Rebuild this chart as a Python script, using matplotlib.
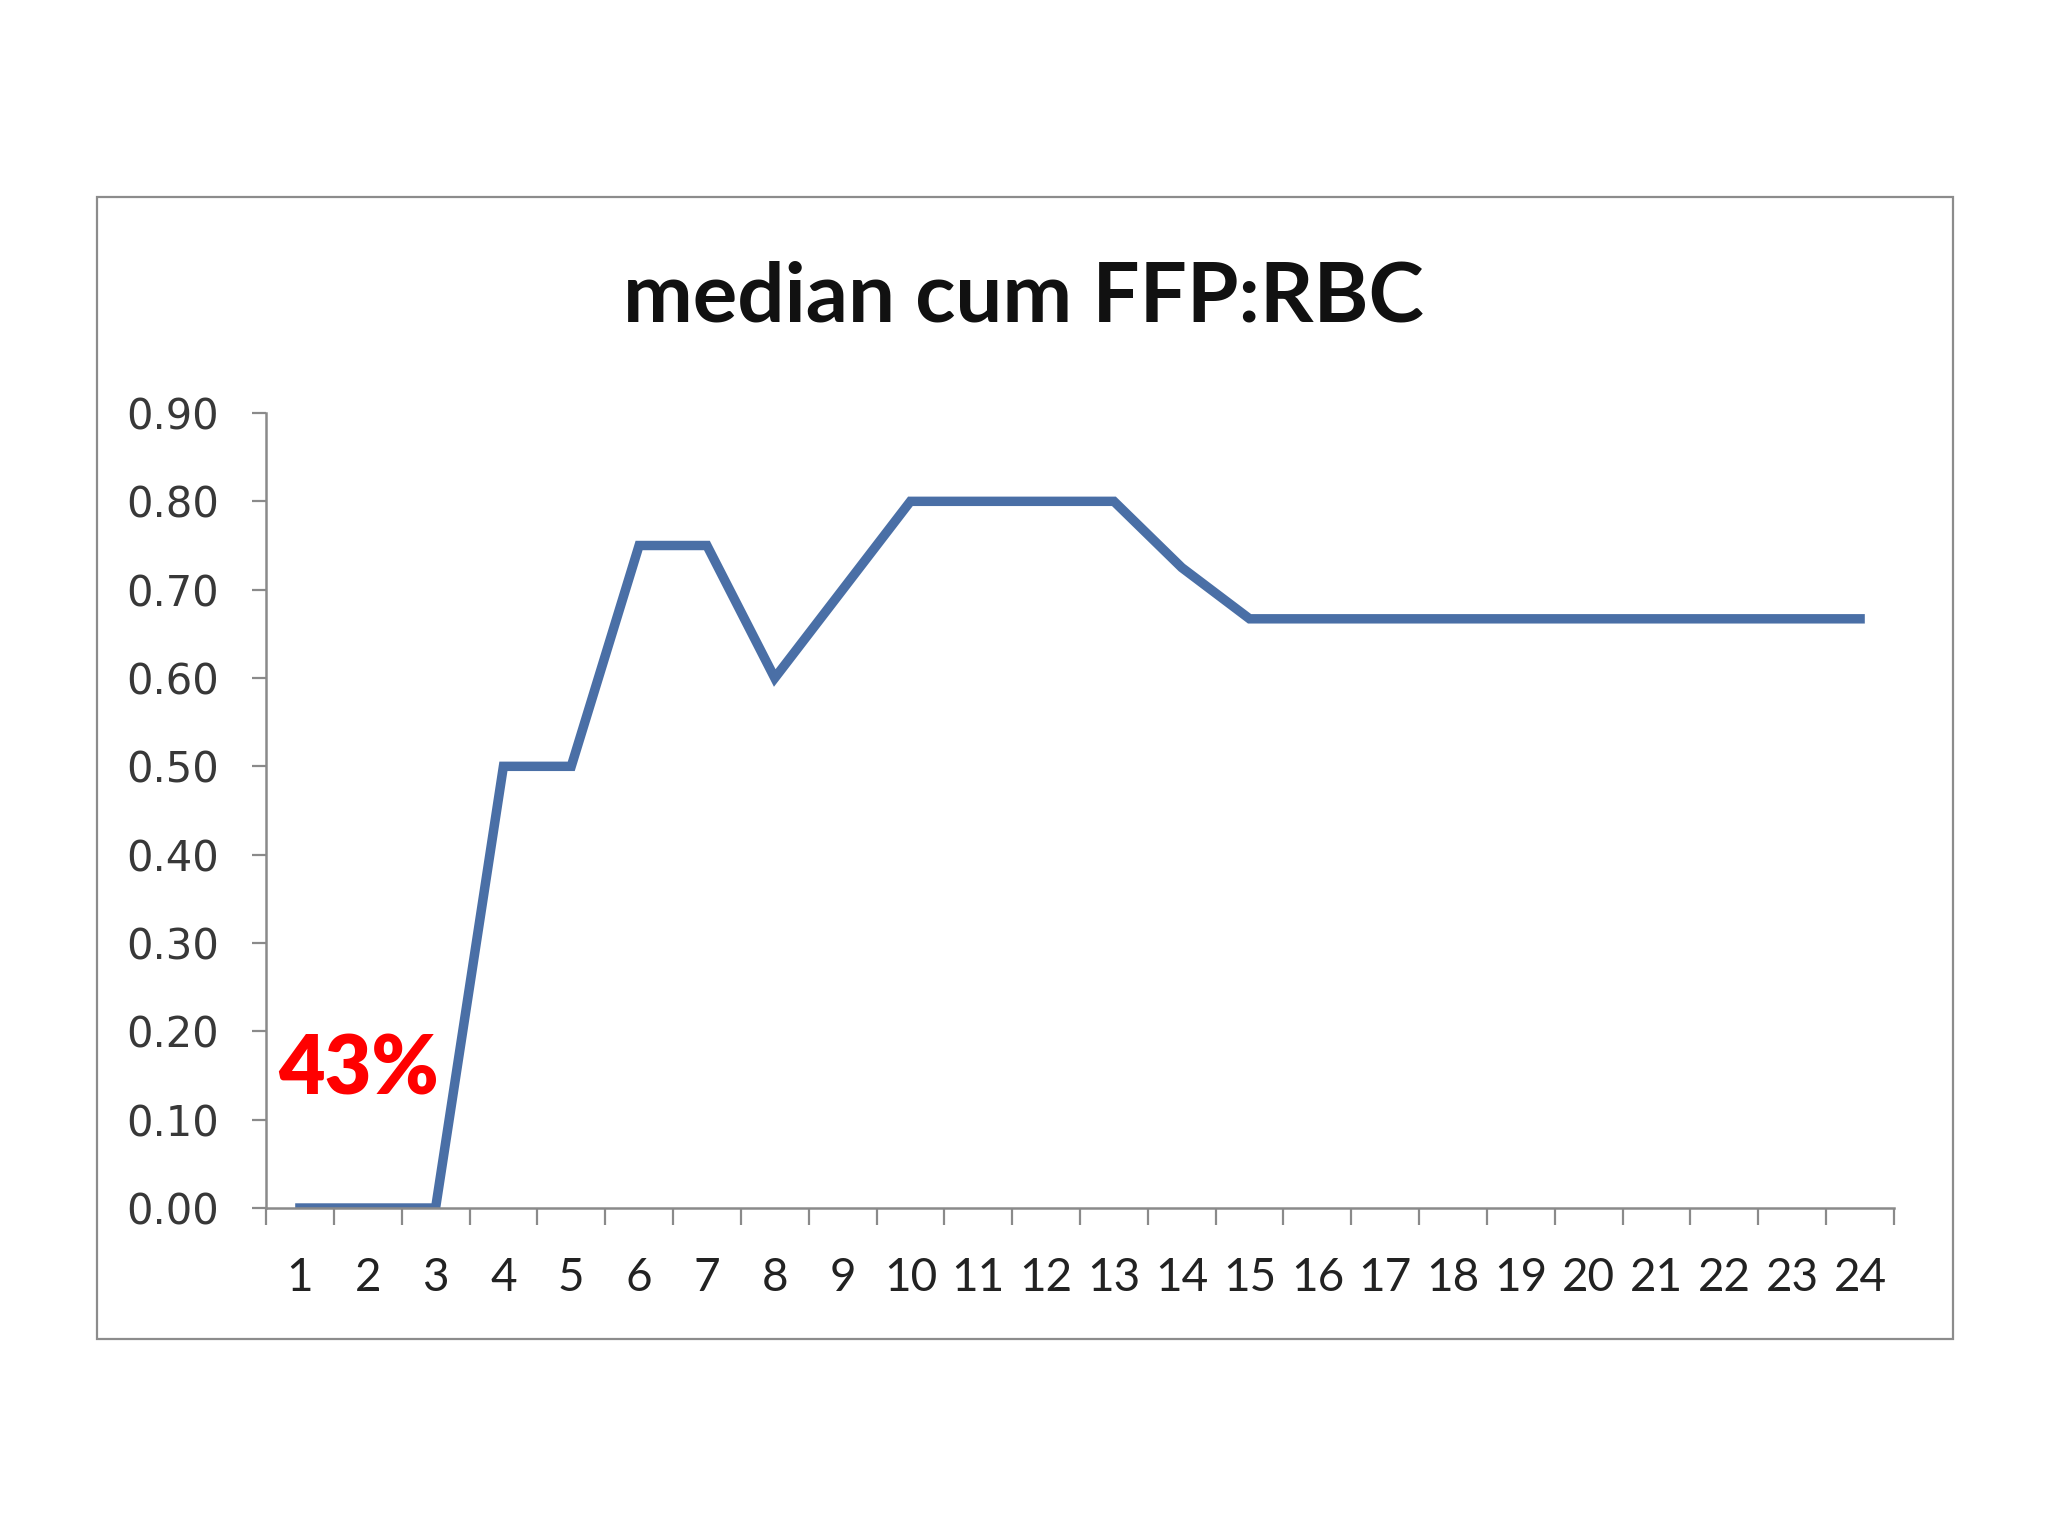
import matplotlib.pyplot as plt
from matplotlib.patches import Rectangle


hours = list(range(1, 25))
ratio = [0.0, 0.0, 0.0, 0.50, 0.50, 0.75, 0.75, 0.60, 0.70, 0.80, 0.80, 0.80,
         0.80, 0.725, 0.667, 0.667, 0.667, 0.667, 0.667, 0.667, 0.667, 0.667,
         0.667, 0.667]
y_ticks = [0.0, 0.1, 0.2, 0.3, 0.4, 0.5, 0.6, 0.7, 0.8, 0.9]

W, H = 2048, 1536
fig = plt.figure(figsize=(20.48, 15.36), dpi=100)

# outer chart frame
fig.patches.append(Rectangle((97 / W, 1 - 1339 / H), (1953 - 97) / W, (1339 - 197) / H,
                             transform=fig.transFigure, fill=False,
                             edgecolor="#8c8c8c", linewidth=1.6))

ax = fig.add_axes([266 / W, 1 - 1208 / H, (1894 - 266) / W, (1208 - 413) / H])
ax.plot(hours, ratio, color="#4A6FA6", linewidth=6.8, solid_joinstyle="miter")

ax.set_xlim(0.5, 24.5)
ax.set_ylim(0, 0.9)
ax.set_yticks(y_ticks)
ax.set_yticklabels([f"{v:.2f}" for v in y_ticks])
ax.set_xticks([h - 0.5 for h in hours] + [24.5])
ax.set_xticklabels([])
ax.set_xticks(hours, minor=True)
ax.set_xticklabels([str(h) for h in hours], minor=True)

for s in ["top", "right"]:
    ax.spines[s].set_visible(False)
for s in ["left", "bottom"]:
    ax.spines[s].set_color("#8a8a8a")
    ax.spines[s].set_linewidth(1.8)

ax.tick_params(axis="y", direction="out", length=10, width=1.6, color="#8a8a8a",
               pad=24, labelsize=30, labelcolor="#383838")
ax.tick_params(axis="x", which="major", direction="out", length=12, width=1.6,
               color="#8a8a8a")
ax.tick_params(axis="x", which="minor", length=0, pad=35, labelsize=33,
               labelcolor="#222222")
for lab in ax.get_xticklabels(minor=True):
    lab.set_family("Lato")

fig.text(1023 / W, 1 - 298 / H, "median cum FFP:RBC", ha="center", va="center",
         fontsize=60, fontweight="bold", family="Lato", color="#111111")

ax.text(0.68, 0.155, "43%", ha="left", va="center", fontsize=58,
        fontweight="heavy", family="Lato", color="#ff0000")

fig.savefig("out.png", dpi=100)
